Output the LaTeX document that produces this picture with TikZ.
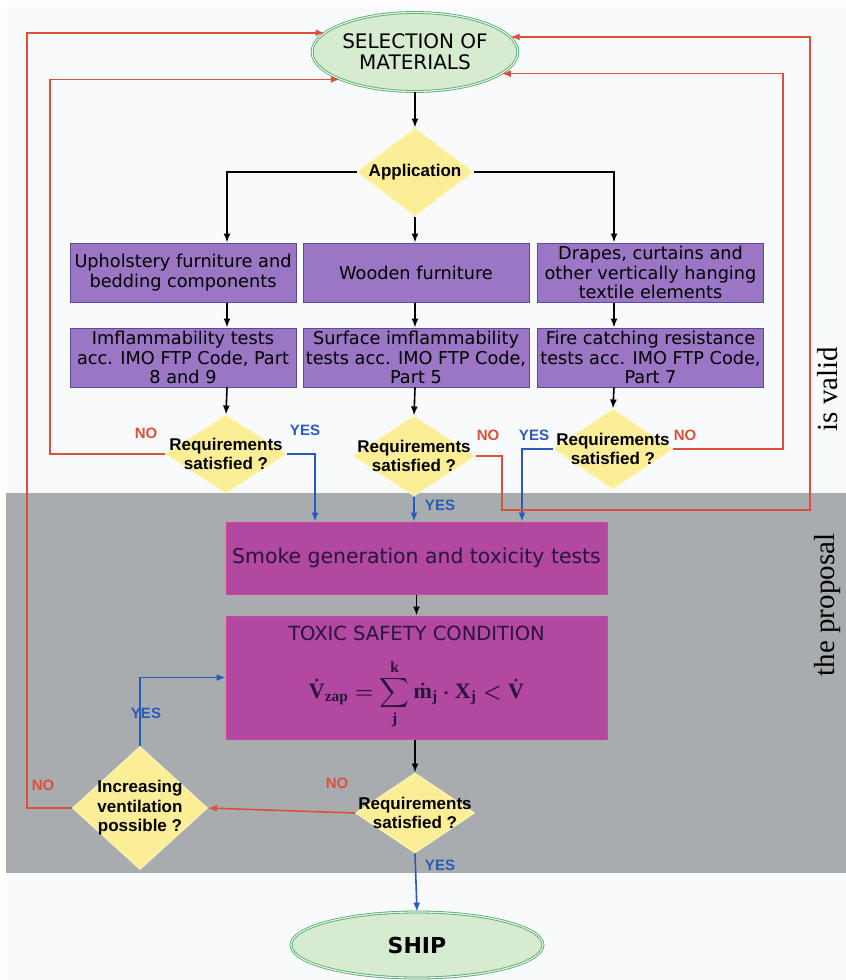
\documentclass[tikz,border=0pt]{standalone}
\usepackage{amsmath}
\usepackage[no-math]{fontspec}
\setmainfont{DejaVu Sans}
\newfontfamily\decfont{Liberation Sans}
\newfontfamily\sidefont{Liberation Serif}
\usepackage{xcolor}
\usepackage{tikz}
\usetikzlibrary{shapes.geometric, positioning, arrows.meta}

\definecolor{pagebg}{RGB}{249,250,252}
\definecolor{graybg}{RGB}{168,172,175}
\definecolor{termfill}{RGB}{214,235,208}
\definecolor{termedge}{RGB}{80,170,110}
\definecolor{boxfill}{RGB}{155,118,196}
\definecolor{boxedge}{RGB}{85,75,160}
\definecolor{magfill}{RGB}{178,72,160}
\definecolor{magedge}{RGB}{205,70,160}
\definecolor{decfill}{RGB}{252,238,150}
\definecolor{decedge}{RGB}{250,246,185}
\definecolor{nored}{RGB}{218,80,58}
\definecolor{yesblue}{RGB}{40,90,190}
\definecolor{toxtext}{RGB}{40,20,60}

% toxic safety condition
\newcommand{\fbsym}[1]{\text{\sidefont\bfseries #1}}
\newcommand{\toxform}{\boldmath$\displaystyle
    \dot{\fbsym{V}}_{\fbsym{zap}}=\sum_{\fbsym{j}}^{\fbsym{k}}\dot{\fbsym{m}}_{\fbsym{j}}\cdot\fbsym{X}_{\fbsym{j}}<\dot{\fbsym{V}}$}

\tikzset{
    term/.style={ellipse, draw=termedge, double=termfill!60!white, double distance=1.2pt,
        line width=0.8pt, fill=termfill, inner sep=0pt, align=center},
    matbox/.style={rectangle, draw=boxedge, fill=boxfill, line width=1pt, inner sep=1pt,
        minimum width=226pt, minimum height=59pt, align=center,
        font=\fontsize{17.7}{19.5}\selectfont},
    magbox/.style={rectangle, draw=magedge, fill=magfill, line width=1pt, inner sep=1pt,
        minimum width=381pt, align=center, text=toxtext},
    decbox/.style 2 args={diamond, draw=decedge, fill=decfill, line width=1pt, inner sep=0pt,
        minimum width=#1, minimum height=#2},
    dectext/.style={align=center, inner sep=0pt, text=black,
        font=\decfont\bfseries\fontsize{17}{19.5}\selectfont},
    flow/.style={-{Latex[length=9pt,width=7pt]}, line width=1.6pt, draw=black},
    yesline/.style={flow, draw=yesblue},
    noline/.style={flow, draw=nored},
    yeslbl/.style={text=yesblue, inner sep=0pt, font=\decfont\bfseries\fontsize{15}{16}\selectfont},
    nolbl/.style={text=nored, inner sep=0pt, font=\decfont\bfseries\fontsize{15}{16}\selectfont},
}

\begin{document}
\begin{tikzpicture}[x=1pt, y=-1pt]
    \useasboundingbox (0,0) rectangle (846,980);
    % Background
    \fill[white] (0,0) rectangle (846,980);
    \fill[pagebg] (7,7) rectangle (846,980);
    \fill[graybg] (6,493) rectangle (846,873);

    % Columns of the loops and branches
    \coordinate (xL1) at (27,0);
    \coordinate (xL2) at (50,0);
    \coordinate (xR1) at (810,0);
    \coordinate (xR2) at (783,0);
    \coordinate (c1) at (227,0);
    \coordinate (c3) at (614,0);
    \coordinate (y1) at (315,0);
    \coordinate (y3) at (522,0);
    \coordinate (n2) at (502,510);

    % Start and end
    \node[term, minimum width=180pt, minimum height=79pt, font=\fontsize{20}{21}\selectfont]
        (sel) at (415,52) {SELECTION OF\\MATERIALS};
    \node[term, minimum width=252pt, minimum height=66pt, font=\bfseries\fontsize{22}{24}\selectfont]
        (ship) at (417,945) {SHIP};

    % Application
    \node[decbox={116pt}{88pt}, label={[dectext]center:Application}] (app) at (415,172) {};

    % Material groups
    \node[matbox] (up) at (183,272.5) {Upholstery furniture and\\bedding components};
    \node[matbox] (wood) at (416,272.5) {Wooden furniture};
    \node[matbox] (drape) at (650.5,272.5) {Drapes, curtains and\\other vertically hanging\\textile elements};

    % Tests
    \node[matbox] (imf) at (183,357.5) {Imflammability tests\\acc. IMO FTP Code, Part\\8 and 9};
    \node[matbox] (surf) at (416,357.5) {Surface imflammability\\tests acc. IMO FTP Code,\\Part 5};
    \node[matbox] (fire) at (650.5,357.5) {Fire catching resistance\\tests acc. IMO FTP Code,\\Part 7};

    % Requirements
    \node[decbox={121pt}{78pt}, label={[dectext]center:Requirements\\satisfied ?}] (req1) at (226,454) {};
    \node[decbox={122pt}{80pt}, label={[dectext]center:Requirements\\satisfied ?}] (req2) at (414,456) {};
    \node[decbox={119pt}{80pt}, label={[dectext]center:Requirements\\satisfied ?}] (req3) at (613,449) {};

    % The proposal
    \node[magbox, minimum height=72pt, font=\fontsize{20.4}{22}\selectfont]
        (smoke) at (416.5,558) {Smoke generation and toxicity tests};
    \node[magbox, minimum height=123pt, font=\fontsize{19.5}{21}\selectfont]
        (toxic) at (416.5,677.5) {TOXIC SAFETY CONDITION\\[18pt]{\fontsize{22}{24}\selectfont\toxform}};
    \node[decbox={119pt}{80pt}, label={[dectext]center:Requirements\\satisfied ?}] (req4) at (415,813) {};
    \node[decbox={135pt}{123pt}, label={[dectext]center:Increasing\\ventilation\\possible ?}] (vent) at (140,808) {};

    % Side texts
    \node[rotate=90, font=\sidefont\fontsize{29}{30}\selectfont] (valid) at (828,389) {is valid};
    \node[rotate=90, font=\sidefont\fontsize{29}{30}\selectfont] (prop) at (828,605) {the proposal};

    % Main flow
    \draw[flow] (sel.south) -- (app.north);
    \draw[flow] (app.west) -| (c1 |- up.north);
    \draw[flow] (app.south) -- (app.south |- wood.north);
    \draw[flow] (app.east) -| (c3 |- drape.north);
    \draw[flow] (c1 |- up.south) -- (c1 |- imf.north);
    \draw[flow] (app.south |- wood.south) -- (app.south |- surf.north);
    \draw[flow] (c3 |- drape.south) -- (c3 |- fire.north);
    \draw[flow] (c1 |- imf.south) -- (req1.north);
    \draw[flow] (app.south |- surf.south) -- (req2.north);
    \draw[flow] (c3 |- fire.south) -- (req3.north);
    \draw[flow] (smoke.south) -- (toxic.north);
    \draw[flow] (toxic.south -| req4.north) -- (req4.north);

    % YES branches
    \draw[yesline] (req1.east) -| (y1 |- smoke.north);
    \draw[yesline] (req2.south) -- (req2.south |- smoke.north);
    \draw[yesline] (req3.west) -| (y3 |- smoke.north);
    \draw[yesline] (vent.north) |- (toxic.west);
    \draw[yesline] (req4.south) -- (ship.north);

    % NO branches
    \draw[noline] (req1.west) -| (xL2 |- sel.200) -- (sel.200);
    \draw[noline] (req2.east) -| (n2) -| (xR1 |- sel.9) -- (sel.9);
    \draw[noline] (req3.east) -| (xR2 |- sel.346) -- (sel.346);
    \draw[noline] (req4.west) -- (vent.east);
    \draw[noline] (vent.west) -| (xL1 |- sel.168) -- (sel.168);

    % Labels
    \node[nolbl] (no1) at (146,433) {NO};
    \node[yeslbl] (yes1) at (305,430) {YES};
    \node[yeslbl] (yes2) at (440,505) {YES};
    \node[nolbl] (no2) at (488,435) {NO};
    \node[yeslbl] (yes3) at (534,435) {YES};
    \node[nolbl] (no3) at (685,435) {NO};
    \node[yeslbl] (yes5) at (146,713) {YES};
    \node[nolbl] (no5) at (43,785) {NO};
    \node[nolbl] (no4) at (337,783) {NO};
    \node[yeslbl] (yes4) at (440,865) {YES};
\end{tikzpicture}
\end{document}
